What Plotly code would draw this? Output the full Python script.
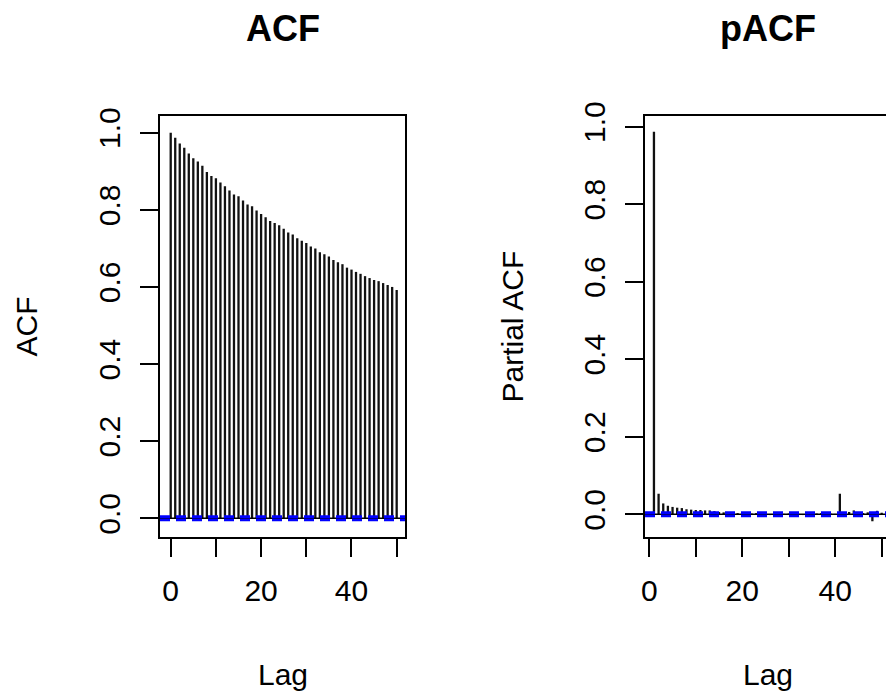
import plotly.graph_objects as go

# Sample autocorrelation, lags 0..50
acf_lags = list(range(0, 51))
acf_vals = [
    1.000, 0.987, 0.972, 0.961, 0.946, 0.934, 0.925, 0.914, 0.898, 0.888,
    0.882, 0.871, 0.861, 0.850, 0.840, 0.835, 0.824, 0.814, 0.809, 0.798,
    0.789, 0.781, 0.771, 0.766, 0.760, 0.751, 0.741, 0.736, 0.726, 0.720,
    0.714, 0.705, 0.700, 0.690, 0.685, 0.679, 0.670, 0.664, 0.659, 0.650,
    0.645, 0.639, 0.634, 0.628, 0.623, 0.618, 0.615, 0.610, 0.605, 0.600,
    0.592,
]

# Partial autocorrelation, lags 1..50
pacf_lags = list(range(1, 51))
pacf_vals = [
    0.987, 0.053, 0.028, 0.022, 0.019, 0.017, 0.016, 0.013, 0.012, 0.011,
    0.011, 0.010, 0.010, 0.008, 0.006, 0.005, 0.004, 0.005, 0.003, 0.004,
    0.003, 0.002, 0.003, 0.002, 0.002, -0.002, 0.003, 0.002, 0.001, 0.002,
    0.003, 0.002, -0.002, 0.003, 0.002, 0.002, 0.003, -0.003, 0.002, 0.001,
    0.053, 0.004, 0.006, 0.010, 0.006, 0.003, 0.005, -0.018, 0.009, 0.004,
]

# 95% white-noise bound
ci_bound = 0.0043

x_ticks = [0, 10, 20, 30, 40, 50]
x_ticktext = ["0", "", "20", "", "40", ""]
y_ticks = [0.0, 0.2, 0.4, 0.6, 0.8, 1.0]
y_ticktext = ["0.0", "0.2", "0.4", "0.6", "0.8", "1.0"]

FONT = "Liberation Sans, Arial, sans-serif"
W, H = 886, 693


def spikes(lags, vals):
    xs, ys = [], []
    for k, v in zip(lags, vals):
        xs += [k, k, None]
        ys += [0, v, None]
    return xs, ys


fig = go.Figure()

xa, ya = spikes(acf_lags, acf_vals)
fig.add_trace(go.Scatter(x=xa, y=ya, mode="lines", xaxis="x", yaxis="y",
                         line=dict(color="#111111", width=2.3),
                         hoverinfo="skip", showlegend=False))
xp, yp = spikes(pacf_lags, pacf_vals)
fig.add_trace(go.Scatter(x=xp, y=yp, mode="lines", xaxis="x2", yaxis="y2",
                         line=dict(color="#111111", width=2.3),
                         hoverinfo="skip", showlegend=False))

y_dom = [(H - 537) / H, (H - 116) / H]

axis_common = dict(
    showgrid=False, zeroline=False, showline=True, linecolor="black",
    linewidth=2, ticks="outside", ticklen=18, tickwidth=2, tickcolor="black",
    tickfont=dict(family=FONT, size=30, color="black"),
    ticklabelstandoff=8, automargin=False,
)

fig.update_layout(
    width=W, height=H,
    margin=dict(l=0, r=0, t=0, b=0, pad=0),
    paper_bgcolor="white", plot_bgcolor="white",
    xaxis=dict(domain=[160 / W, 405 / W], range=[-2.37, 51.84],
               tickvals=x_ticks, ticktext=x_ticktext, mirror=True,
               anchor="y", **axis_common),
    yaxis=dict(domain=y_dom, range=[-0.0485, 1.0433],
               tickvals=y_ticks, ticktext=y_ticktext, tickangle=-90,
               mirror=True, anchor="x", **axis_common),
    xaxis2=dict(domain=[645 / W, 1.0], range=[-0.925, 50.93],
                tickvals=x_ticks, ticktext=x_ticktext, mirror=True,
                anchor="y2", **axis_common),
    yaxis2=dict(domain=y_dom, range=[-0.0586, 1.0276],
                tickvals=y_ticks, ticktext=y_ticktext, tickangle=-90,
                mirror=False, anchor="x2", **axis_common),
)

# zero line and dashed confidence bounds
for xr, yr in (("x", "y"), ("x2", "y2")):
    fig.add_shape(type="line", xref=f"{xr} domain", yref=yr, x0=0, x1=1,
                  y0=0, y1=0, line=dict(color="black", width=1.5))
    for b in (ci_bound, -ci_bound):
        fig.add_shape(type="line", xref=f"{xr} domain", yref=yr, x0=0, x1=1,
                      y0=b, y1=b, line=dict(color="#0000FF", width=2.8,
                                            dash="10px,6px"))


def px_x(v):
    return v / W


def px_y(v):
    return (H - v) / H


texts = [
    ("<b>ACF</b>", 282.5, 28, 36, 0),
    ("<b>pACF</b>", 768, 28, 36, 0),
    ("Lag", 282.5, 674, 30, 0),
    ("Lag", 768, 674, 30, 0),
    ("ACF", 26, 326.5, 30, -90),
    ("Partial ACF", 512, 326.5, 30, -90),
]
for t, x, y, s, ang in texts:
    fig.add_annotation(text=t, x=px_x(x), y=px_y(y), xref="paper",
                       yref="paper", xanchor="center", yanchor="middle",
                       showarrow=False, textangle=ang,
                       font=dict(family=FONT, size=s, color="black"))

fig.write_html("out.html")
